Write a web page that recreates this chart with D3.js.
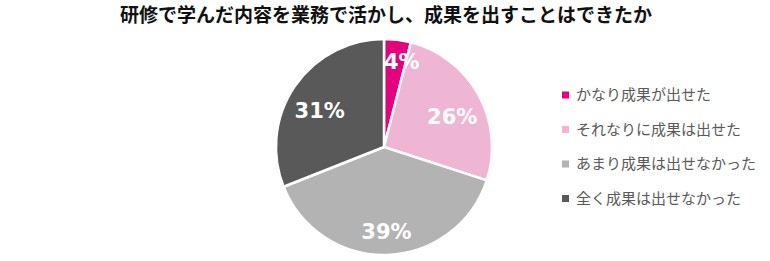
<!DOCTYPE html>
<html>
<head>
<meta charset="utf-8">
<script src="https://cdn.jsdelivr.net/npm/d3@7"></script>
<style>
  body { margin: 0; background: #fff; }
  svg { display: block; }
</style>
</head>
<body>
<div class="wrapper"></div>
<script>
var titleText = "研修で学んだ内容を業務で活かし、成果を出すことはできたか";
var categories = ["かなり成果が出せた", "それなりに成果は出せた", "あまり成果は出せなかった", "全く成果は出せなかった"];
var values = [4, 26, 39, 31];
var colors = ["#e6007e", "#efb5d5", "#b3b3b3", "#595959"];

var width = 770, height = 261;
var cx = 384, cy = 147, radius = 108;

var svg = d3.select(".wrapper").append("svg")
  .attr("width", width)
  .attr("height", height);

svg.append("text")
  .attr("x", 386)
  .attr("y", 22)
  .attr("text-anchor", "middle")
  .attr("font-family", "'Noto Sans CJK JP', sans-serif")
  .attr("font-weight", "bold")
  .attr("font-size", 19)
  .attr("fill", "#111")
  .text(titleText);

var data = categories.map(function(c, i) {
  return { name: c, value: values[i], color: colors[i] };
});

var pie = d3.pie().sort(null).value(function(d) { return d.value; });
var arc = d3.arc().innerRadius(0).outerRadius(radius);
// labels sit roughly 3/4 of the way out; the tiny slice a bit further
var labelArc = function(d) {
  var r = (d.data.value < 10) ? radius * 0.8 : radius * 0.72;
  return d3.arc().innerRadius(r).outerRadius(r).centroid(d);
};

var g = svg.append("g").attr("transform", "translate(" + cx + "," + cy + ")");

g.selectAll("path")
  .data(pie(data))
  .enter().append("path")
    .attr("d", arc)
    .attr("fill", function(d) { return d.data.color; })
    .attr("stroke", "#fff")
    .attr("stroke-width", 2.5)
    .attr("stroke-linejoin", "round");

g.selectAll("text.lbl")
  .data(pie(data))
  .enter().append("text")
    .attr("class", "lbl")
    .attr("transform", function(d) {
      var p = labelArc(d);
      if (d.data.value < 10) p[0] += 7;
      else p[1] += 7;
      return "translate(" + p[0] + "," + p[1] + ")";
    })
    .attr("text-anchor", "middle")
    .attr("dy", "0.36em")
    .attr("font-family", "'DejaVu Sans', sans-serif")
    .attr("font-weight", "bold")
    .attr("font-size", 21)
    .attr("fill", "#fff")
    .text(function(d) { return d.data.value + "%"; });

var legend = svg.append("g")
  .attr("transform", "translate(562,95)")
  .selectAll("g")
  .data(data)
  .enter().append("g")
    .attr("transform", function(d, i) { return "translate(0," + i * 34.5 + ")"; });

legend.append("rect")
  .attr("x", 0)
  .attr("y", -3.5)
  .attr("width", 7)
  .attr("height", 7)
  .attr("fill", function(d) { return d.color; });

legend.append("text")
  .attr("x", 14)
  .attr("dy", "0.36em")
  .attr("font-family", "'Noto Sans CJK JP', sans-serif")
  .attr("font-size", 15)
  .attr("fill", "#595959")
  .text(function(d) { return d.name; });
</script>
</body>
</html>
